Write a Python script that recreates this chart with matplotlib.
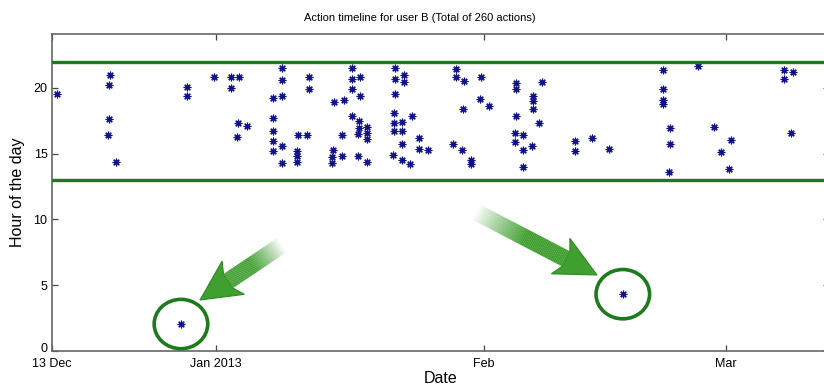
import numpy as np
import matplotlib
matplotlib.use("Agg")
import matplotlib.pyplot as plt
import matplotlib.dates as mdates
import matplotlib.transforms as mtransforms
from matplotlib.patches import Polygon, Ellipse
from datetime import datetime

plt.rcParams["font.family"] = ["Liberation Sans", "DejaVu Sans"]

start = datetime(2012, 12, 13)
end = datetime(2013, 3, 13)

# days after 13 Dec 2012 and hour of day for each action
days = [0.65, 6.74, 6.67, 6.6, 6.55, 7.48, 15.7, 15.7, 18.8, 20.7, 20.7, 21.7,
        21.56, 22.6, 21.5, 26.7, 26.7, 25.65, 26.7, 25.65, 25.6, 25.6, 25.6,
        26.6, 26.6, 29.8, 29.8, 28.5, 29.6, 28.4, 28.4, 28.4, 34.8, 34.7,
        35.7, 34.7, 35.7, 32.7, 33.8, 34.7, 35.6, 35.6, 35.5, 36.5, 36.5,
        36.5, 33.6, 32.5, 32.4, 32.4, 33.6, 35.5, 36.5, 39.7, 39.7, 40.8,
        40.8, 39.7, 39.6, 41.7, 39.6, 40.6, 39.6, 40.6, 40.6, 39.5, 40.5,
        41.5, 42.5, 42.5, 43.6, 46.8, 46.8, 47.7, 49.7, 47.55, 49.6, 50.6,
        46.5, 47.5, 48.5, 48.5, 53.7, 53.7, 55.7, 55.7, 55.7, 53.7, 56.4,
        53.6, 54.6, 53.6, 54.6, 55.6, 54.5, 56.7, 60.6, 60.6, 62.5, 64.5,
        70.8, 70.8, 70.8, 70.8, 71.6, 71.6, 71.5, 74.75, 76.6, 78.6, 77.5,
        78.4, 84.8, 84.8, 85.8, 85.6, 14.96, 66.1]
hours = [19.57, 20.97, 20.2, 17.67, 16.4, 14.4, 20.1, 19.4, 20.85, 20.85, 20.0,
         20.85, 17.3, 17.1, 16.3, 21.5, 20.6, 19.25, 19.4, 17.7, 16.7, 16.0,
         15.2, 15.6, 14.3, 20.85, 19.9, 16.45, 16.45, 15.2, 14.8, 14.4, 21.5,
         20.65, 20.8, 19.9, 19.37, 18.9, 19.05, 17.9, 17.45, 16.95, 16.5,
         17.0, 16.6, 16.1, 16.4, 15.25, 14.75, 14.3, 14.85, 14.85, 14.4,
         21.5, 20.7, 21.0, 20.45, 19.55, 18.1, 17.9, 17.3, 17.4, 16.7, 16.7,
         15.7, 14.9, 14.5, 14.2, 16.2, 15.35, 15.3, 21.45, 20.85, 20.5,
         20.85, 18.4, 19.15, 18.6, 15.7, 15.3, 14.55, 14.25, 20.4, 19.9,
         19.4, 19.0, 18.4, 17.9, 17.3, 16.6, 16.4, 15.9, 15.3, 15.55, 14.0,
         20.45, 16.0, 15.2, 16.2, 15.35, 21.35, 19.9, 19.1, 18.75, 16.95,
         15.75, 13.6, 21.65, 17.0, 16.05, 15.1, 13.8, 21.35, 20.65, 21.2,
         16.6, 2.05, 4.32]
outliers = [(14.96, 2.05), (66.1, 4.32)]
band = [13, 22]

tick_dates = [datetime(2012, 12, 13), datetime(2013, 1, 1),
              datetime(2013, 2, 1), datetime(2013, 3, 1)]
tick_labels = ["13 Dec", "Jan 2013", "Feb", "Mar"]

W, H = 824, 385
fig = plt.figure(figsize=(W / 100, H / 100), dpi=100)
ax = fig.add_axes([51.7 / W, 1 - 351 / H, 777.6 / W, 317 / H])

x0 = mdates.date2num(start)
xs = x0 + np.array(days)
ax.plot(xs, hours, linestyle="none", marker=(8, 2, 0), markersize=5.5,
        markeredgewidth=0.85, color="#10108a")

for b in band:
    ax.axhline(b, color="#1d7a1d", lw=2.4, zorder=3)

for d, h in outliers:
    ax.add_patch(Ellipse((x0 + d, h), 6.2, 3.75, fill=False,
                         edgecolor="#1d7a1d", lw=2.6, zorder=4))

ax.set_xlim(mdates.date2num(start), mdates.date2num(end))
ax.set_ylim(0, 24.1)
ax.set_xticks([mdates.date2num(t) for t in tick_dates])
ax.set_xticklabels(tick_labels)
ax.set_yticks([0, 5, 10, 15, 20])
ax.tick_params(direction="in", length=4, width=0.9, colors="#444444",
               labelcolor="black", labelsize=9, top=True, right=True)
ax.tick_params(axis="x", pad=5)
ax.tick_params(axis="y", pad=3)
# lift the "0" a little, as in the original, so it sits above "13 Dec"
lbl0 = ax.get_yticklabels()[0]
lbl0.set_transform(lbl0.get_transform() +
                   mtransforms.ScaledTranslation(0, 3 / 100, fig.dpi_scale_trans))
for s in ax.spines.values():
    s.set_color("#666666")
    s.set_linewidth(1.2)

ax.set_xlabel("Date", fontsize=11.5, labelpad=1)
ax.set_ylabel("Hour of the day", fontsize=11.5, labelpad=6)
fig.text(420 / W, 1 - 18 / H, "Action timeline for user B (Total of 260 actions)",
         ha="center", va="center", fontsize=8)


def px(p):
    return (p[0] / W, 1 - p[1] / H)


def arrow(tail, tip, head_len, head_half, shaft_half, fade=0.55):
    tail = np.array(tail, float)
    tip = np.array(tip, float)
    d = tip - tail
    L = np.hypot(*d)
    u = d / L
    n = np.array([-u[1], u[0]])
    base = tip - u * head_len
    head = [base + n * shaft_half, base + n * head_half - u * 6, tip,
            base - n * head_half - u * 6, base - n * shaft_half]
    fig.patches.append(Polygon([px(p) for p in head], closed=True,
                               transform=fig.transFigure, facecolor="#3f9f2f",
                               edgecolor="#2f8a24", lw=0.8))
    shaft_len = L - head_len
    N = 60
    for i in range(N):
        a0 = tail + u * shaft_len * i / N
        a1 = tail + u * shaft_len * (i + 1.1) / N
        t = (i + 0.5) / N
        alpha = min(1.0, t / fade)
        poly = [a0 + n * shaft_half, a1 + n * shaft_half,
                a1 - n * shaft_half, a0 - n * shaft_half]
        fig.patches.append(Polygon([px(p) for p in poly], closed=True,
                                   transform=fig.transFigure,
                                   facecolor="#3f9f2f", alpha=alpha, lw=0))


arrow((282, 245), (200, 300), 34, 20, 8.5)
arrow((476, 212), (597, 275), 35, 20, 8.5)

fig.savefig("out.png", dpi=100)
